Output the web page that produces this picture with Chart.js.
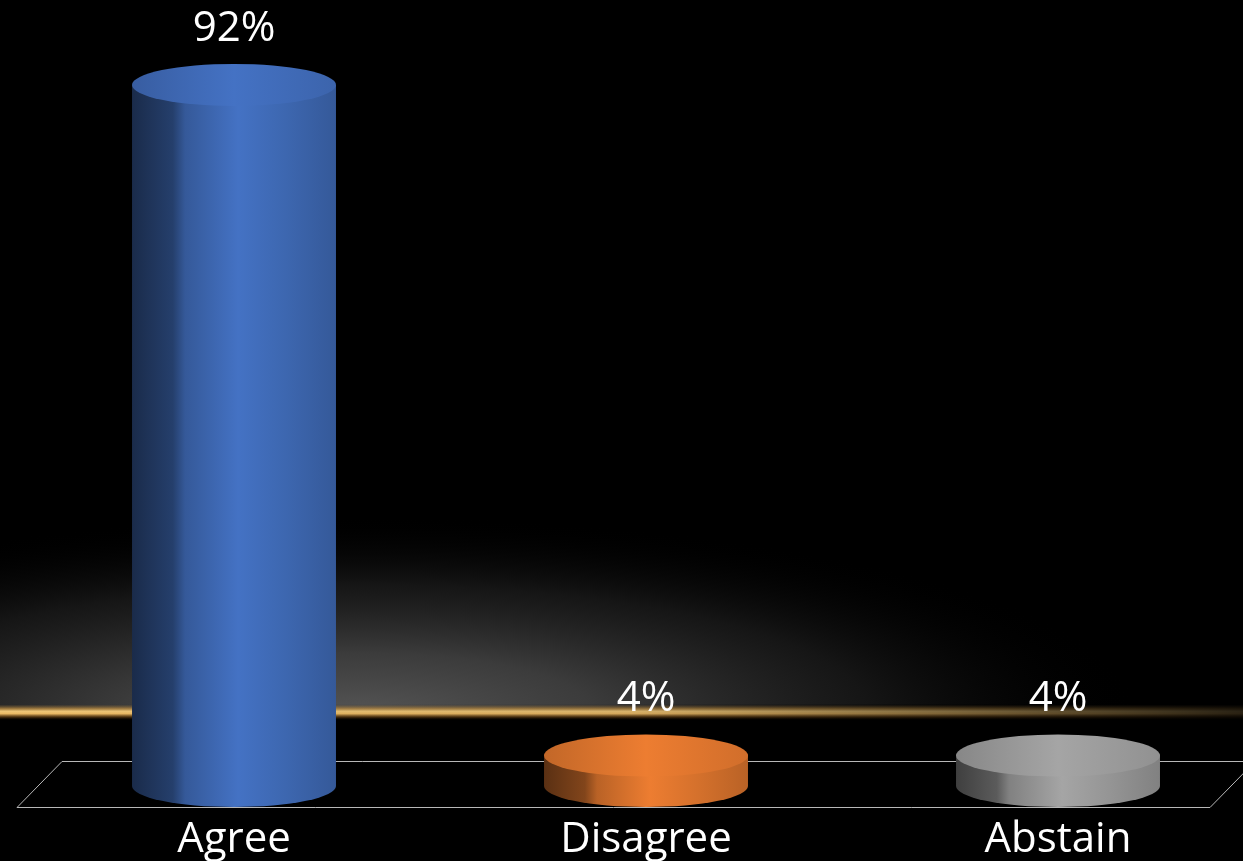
<!DOCTYPE html>
<html>
<head>
<meta charset="utf-8">
<script src="https://cdn.jsdelivr.net/npm/chart.js@4.4.1/dist/chart.umd.min.js"></script>
<style>
  html, body { margin: 0; padding: 0; background: #000; overflow: hidden; }
  #wrap { position: relative; width: 1264px; height: 861px; }
</style>
</head>
<body>
<div id="wrap"><canvas id="vote-chart"></canvas></div>
<script>
const voteLabels = ["Agree", "Disagree", "Abstain"];
const voteShares = [92, 4, 4];
const voteColors = ["#4472c4", "#ed7d31", "#a5a5a5"];

const FONT = "'Open Sans', 'Liberation Sans', sans-serif";

function shade(hex, f) {
    const n = parseInt(hex.slice(1), 16);
    const c = [(n >> 16) & 255, (n >> 8) & 255, n & 255].map(v =>
        Math.max(0, Math.min(255, Math.round(v * f)))
    );
    return "rgb(" + c.join(",") + ")";
}

// black backdrop, grey glow and the golden horizon
const backdropPlugin = {
    id: "backdrop",
    beforeDraw(chart) {
        const ctx = chart.ctx;
        const w = chart.width, h = chart.height;
        const hy = 711.5;
        ctx.save();
        ctx.fillStyle = "#000";
        ctx.fillRect(0, 0, w, h);

        ctx.save();
        ctx.beginPath();
        ctx.rect(0, 0, w, hy);
        ctx.clip();
        ctx.translate(360, hy);
        ctx.scale(1, 0.25);
        const glow = ctx.createRadialGradient(0, 0, 0, 0, 0, 780);
        glow.addColorStop(0, "rgba(84,84,84,1)");
        glow.addColorStop(0.3, "rgba(66,66,66,0.9)");
        glow.addColorStop(0.65, "rgba(36,36,36,0.6)");
        glow.addColorStop(1, "rgba(0,0,0,0)");
        ctx.fillStyle = glow;
        ctx.fillRect(-800, -900, 1700, 1800);
        ctx.restore();

        // golden band, fading out to the right
        const band = ctx.createLinearGradient(0, hy - 7, 0, hy + 9);
        band.addColorStop(0, "rgba(150,110,50,0)");
        band.addColorStop(0.25, "rgba(200,150,70,0.7)");
        band.addColorStop(0.42, "rgba(240,200,120,1)");
        band.addColorStop(0.58, "rgba(235,185,100,1)");
        band.addColorStop(0.8, "rgba(110,70,20,0.6)");
        band.addColorStop(1, "rgba(0,0,0,0)");
        ctx.fillStyle = band;
        ctx.fillRect(0, hy - 7, w, 16);
        ctx.globalCompositeOperation = "destination-out";
        ctx.restore();
        ctx.save();
        const fade = ctx.createLinearGradient(0, 0, w, 0);
        fade.addColorStop(0, "rgba(0,0,0,0)");
        fade.addColorStop(0.5, "rgba(0,0,0,0.1)");
        fade.addColorStop(0.8, "rgba(0,0,0,0.55)");
        fade.addColorStop(1, "rgba(0,0,0,0.85)");
        ctx.fillStyle = fade;
        ctx.fillRect(0, hy - 7, w, 16);

        // floor outline
        const a = chart.chartArea;
        const yb = chart.scales.y.getPixelForValue(0);
        ctx.strokeStyle = "#b8b8b8";
        ctx.lineWidth = 1;
        ctx.beginPath();
        ctx.moveTo(a.left + 34, yb - 24.5);
        ctx.lineTo(a.right + 8, yb - 24.5);
        ctx.moveTo(a.left - 11, yb + 21.5);
        ctx.lineTo(a.right - 54, yb + 21.5);
        ctx.lineTo(a.right - 9, yb - 24.5);
        ctx.moveTo(a.left - 11, yb + 21.5);
        ctx.lineTo(a.left + 34, yb - 24.5);
        ctx.stroke();
        ctx.restore();
    },
};

// draws each bar as a cylinder plus its percent label
const cylinderPlugin = {
    id: "cylinders",
    afterDatasetsDraw(chart) {
        const ctx = chart.ctx;
        const meta = chart.getDatasetMeta(0);
        meta.data.forEach((bar, i) => {
            const base = voteColors[i];
            const rx = bar.width / 2;
            const ry = 21;
            const x = bar.x, top = bar.y, bottom = bar.base;
            ctx.save();
            const body = ctx.createLinearGradient(x - rx, 0, x + rx, 0);
            body.addColorStop(0, shade(base, 0.38));
            body.addColorStop(0.2, shade(base, 0.55));
            body.addColorStop(0.26, shade(base, 0.78));
            body.addColorStop(0.52, shade(base, 1.0));
            body.addColorStop(0.75, shade(base, 0.9));
            body.addColorStop(1, shade(base, 0.78));
            if (bottom - top > 1) {
                ctx.beginPath();
                ctx.moveTo(x - rx, top);
                ctx.lineTo(x - rx, bottom);
                ctx.ellipse(x, bottom, rx, ry, 0, Math.PI, 0, true);
                ctx.lineTo(x + rx, top);
                ctx.closePath();
                ctx.fillStyle = body;
                ctx.fill();
            }
            const cap = ctx.createLinearGradient(x - rx, 0, x + rx, 0);
            cap.addColorStop(0, shade(base, 0.82));
            cap.addColorStop(0.5, shade(base, 1.0));
            cap.addColorStop(1, shade(base, 0.88));
            ctx.beginPath();
            ctx.ellipse(x, top, rx, ry, 0, 0, Math.PI * 2);
            ctx.fillStyle = cap;
            ctx.fill();

            ctx.fillStyle = "#ffffff";
            ctx.font = "42px " + FONT;
            ctx.textAlign = "center";
            ctx.textBaseline = "middle";
            ctx.fillText(voteShares[i] + "%", x, top - 56);
            ctx.restore();
        });
    },
};

const voteChart = new Chart(document.getElementById("vote-chart"), {
    type: "bar",
    data: {
        labels: voteLabels,
        datasets: [
            {
                label: "Vote",
                data: voteShares,
                backgroundColor: "rgba(0,0,0,0)",
                borderWidth: 0,
                categoryPercentage: 1,
                barPercentage: 0.495,
            },
        ],
    },
    options: {
        responsive: true,
        maintainAspectRatio: false,
        animation: false,
        layout: { padding: { left: 28, right: 0, top: 24, bottom: 0 } },
        plugins: {
            legend: { display: false },
            tooltip: { enabled: false },
        },
        scales: {
            x: {
                grid: { display: false, drawTicks: false },
                border: { display: false },
                ticks: {
                    color: "#ffffff",
                    padding: 29,
                    font: { family: FONT, size: 42 },
                },
                afterFit(scale) {
                    scale.height = 75;
                },
            },
            y: { display: false, min: 0, max: 100 },
        },
    },
    plugins: [backdropPlugin, cylinderPlugin],
});
</script>
</body>
</html>
